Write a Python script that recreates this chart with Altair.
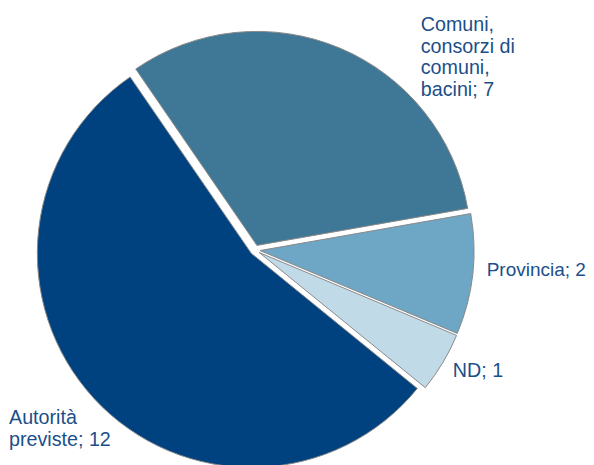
import math
import altair as alt
import pandas as pd

# ---- data ----
categories = ["Comuni, consorzi di comuni, bacini", "Provincia", "ND", "Autorità previste"]
values = [7, 2, 1, 12]
label_lines = ["Comuni,\nconsorzi di\ncomuni,\nbacini; 7", "Provincia; 2", "ND; 1", "Autorità\npreviste; 12"]
order = [0, 1, 2, 3]

# ---- style ----
colors = ["#3F7896", "#6EA6C5", "#C1DAE8", "#00427F"]
text_color = "#1B4F8A"
START = math.radians(325.5)   # first slice starts here (clockwise from 12 o'clock)
CX, CY = 247, 242             # pie centre in the view
EXPLODE = 5                   # slice explosion distance
R = 214                       # pie radius
LR = R + EXPLODE              # label anchor distance

df = pd.DataFrame({"cat": categories, "value": values, "label": label_lines, "idx": order})

base = (
    alt.Chart(df)
    .transform_joinaggregate(total="sum(value)")
    .transform_window(c1="sum(value)", sort=[alt.SortField("idx")], frame=[None, 0])
    .transform_calculate(c0="datum.c1 - datum.value")
    .transform_calculate(mid=f"{START} + 2*PI*(datum.c0 + datum.c1)/2/datum.total")
    .transform_calculate(
        px=f"{CX} + {EXPLODE}*sin(datum.mid)",
        py=f"{CY} - {EXPLODE}*cos(datum.mid)",
        lx=f"{CX} + {LR}*sin(datum.mid)",
        ly=f"{CY} - {LR}*cos(datum.mid)",
    )
)

arcs = base.mark_arc(radius=R, stroke="#8A8A8A", strokeWidth=1).encode(
    theta=alt.Theta("c0:Q", stack=None,
                    scale=alt.Scale(domain=[0, sum(values)],
                                    range=[START, START + 2 * math.pi], nice=False, zero=True)),
    theta2="c1:Q",
    x=alt.X("px:Q", scale=None),
    y=alt.Y("py:Q", scale=None),
    color=alt.Color("cat:N", scale=alt.Scale(domain=categories, range=colors), legend=None),
)

# per-label placement offsets and size (style)
label_style = {
    "Comuni, consorzi di comuni, bacini": (81, -17, 19.7),
    "Provincia": (14, 2, 19),
    "ND": (10, 14, 19.7),
    "Autorità previste": (-85, 26, 19.7),
}

layers = [arcs]
for cat in categories:
    dx, dy, fs = label_style[cat]
    layers.append(
        base.transform_filter(alt.datum.cat == cat)
        .mark_text(
            align="left", baseline="alphabetic", lineBreak="\n", lineHeight=21.7,
            fontSize=fs, font="Liberation Sans", color=text_color, dx=dx, dy=dy,
        )
        .encode(x=alt.X("lx:Q", scale=None), y=alt.Y("ly:Q", scale=None), text="label:N")
    )

chart = (
    alt.layer(*layers)
    .properties(width=578, height=457, padding=0, autosize=alt.AutoSizeParams(type="none"))
    .configure_view(stroke=None)
)

chart.save("out.html", embed_options={"renderer": "svg", "actions": False})
